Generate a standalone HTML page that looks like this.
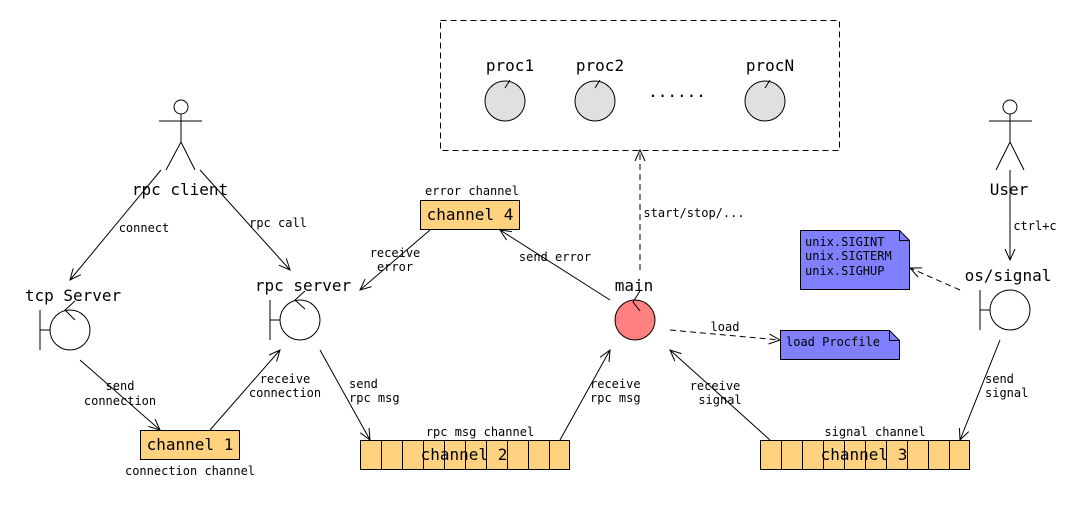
<!DOCTYPE html>
<html><head><meta charset="utf-8"><style>
html,body{margin:0;padding:0;background:#fff;}
svg{display:block;}
text{font-family:"DejaVu Sans Mono","Liberation Mono",monospace;fill:#000;}
.s{font-size:12px;}
.b{font-size:16px;}
</style></head><body>
<svg width="1090" height="510" viewBox="0 0 1090 510" xmlns="http://www.w3.org/2000/svg">
<defs>
<marker id="a" markerWidth="14" markerHeight="14" refX="12" refY="6" orient="auto" markerUnits="userSpaceOnUse">
<path d="M1,1 L12,6 L1,11" fill="none" stroke="#000" stroke-width="1"/>
</marker>
</defs>
<g stroke="#000" stroke-width="1" fill="none">
<rect x="440.5" y="20.5" width="399" height="130" stroke-dasharray="6,4"/>
<!-- procs -->
<circle cx="505" cy="101" r="20" fill="#e0e0e0"/>
<circle cx="595" cy="101" r="20" fill="#e0e0e0"/>
<circle cx="765" cy="101" r="20" fill="#e0e0e0"/>
<path d="M510,80 L505,88 M600,80 L595,88 M770,80 L765,88"/>
<!-- actors -->
<circle cx="181" cy="107" r="7"/>
<path d="M159,121 H202 M181,114 V142 L166,170 M181,142 L195,170"/>
<circle cx="1010" cy="107" r="7"/>
<path d="M989,121 H1032 M1010,114 V142 L996,170 M1010,142 L1024,170"/>
<!-- boundaries -->
<path d="M40,310 V350 M40,330 H50 M75,301 L65,310 L75,320"/>
<circle cx="70" cy="330" r="20"/>
<path d="M270,300 V340 M270,320 H280 M305,291 L295,300 L305,309"/>
<circle cx="300" cy="320" r="20"/>
<path d="M980,290 V330 M980,310 H990"/>
<circle cx="1010" cy="310" r="20"/>
<circle cx="635" cy="320" r="20" fill="#ff8080"/>
<path d="M640,291 L633,302 L640,311"/>
<!-- channels -->
<rect x="140.5" y="430.5" width="99" height="29" fill="#ffd280"/>
<rect x="420.5" y="200.5" width="99" height="29" fill="#ffd280"/>
<rect x="360.5" y="440.5" width="209" height="29" fill="#ffd280"/>
<path d="M381.5,440 V470 M402.5,440 V470 M423.5,440 V470 M444.5,440 V470 M465.5,440 V470 M486.5,440 V470 M507.5,440 V470 M528.5,440 V470 M549.5,440 V470"/>
<rect x="760.5" y="440.5" width="209" height="29" fill="#ffd280"/>
<path d="M781.5,440 V470 M802.5,440 V470 M823.5,440 V470 M844.5,440 V470 M865.5,440 V470 M886.5,440 V470 M907.5,440 V470 M928.5,440 V470 M949.5,440 V470"/>
<!-- notes -->
<path d="M800.5,230.5 H899.5 L909.5,240.5 V289.5 H800.5 Z" fill="#8080ff"/>
<path d="M899.5,230.5 V240.5 H909.5"/>
<path d="M780.5,330.5 H889.5 L899.5,340.5 V359.5 H780.5 Z" fill="#8080ff"/>
<path d="M889.5,330.5 V340.5 H899.5"/>
<!-- arrows -->
<g marker-end="url(#a)">
<path d="M161,170 L70,280"/>
<path d="M200,170 L290,270"/>
<path d="M430,230 L360,290"/>
<path d="M610,300 L500,230"/>
<path d="M640,270 L640,150" stroke-dasharray="6,4"/>
<path d="M670,330 L780,340" stroke-dasharray="6,4"/>
<path d="M960,290 L910,268" stroke-dasharray="6,4"/>
<path d="M1010,170 L1010,260"/>
<path d="M80,360 L160,430"/>
<path d="M210,430 L280,350"/>
<path d="M320,350 L370,440"/>
<path d="M560,440 L610,350"/>
<path d="M770,440 L670,350"/>
<path d="M1000,340 L960,440"/>
</g>
</g>
<!-- text -->
<g class="b" text-anchor="middle">
<text x="510" y="71">proc1</text>
<text x="600" y="71">proc2</text>
<text x="770" y="71">procN</text>
<text x="677" y="97">......</text>
<text x="180" y="195">rpc client</text>
<text x="1009" y="195">User</text>
<text x="73" y="301">tcp Server</text>
<text x="303" y="291">rpc server</text>
<text x="1008" y="281">os/signal</text>
<text x="634" y="291">main</text>
<text x="190" y="450">channel 1</text>
<text x="470" y="220">channel 4</text>
<text x="464" y="460">channel 2</text>
<text x="864" y="460">channel 3</text>
</g>
<g class="s" text-anchor="middle">
<text x="144" y="232">connect</text>
<text x="278" y="227">rpc call</text>
<text x="395" y="257">receive</text>
<text x="395" y="271">error</text>
<text x="555" y="261">send error</text>
<text x="694" y="217">start/stop/...</text>
<text x="725" y="331">load</text>
<text x="1035" y="230">ctrl+c</text>
<text x="120" y="390">send</text>
<text x="120" y="405">connection</text>
<text x="285" y="383">receive</text>
<text x="285" y="397">connection</text>
<text x="715" y="390">receive</text>
<text x="720" y="404">signal</text>
<text x="472" y="195">error channel</text>
<text x="190" y="475">connection channel</text>
<text x="480" y="436">rpc msg channel</text>
<text x="875" y="436">signal channel</text>
</g>
<g class="s">
<text x="349" y="388">send</text>
<text x="349" y="402">rpc msg</text>
<text x="590" y="388">receive</text>
<text x="590" y="402">rpc msg</text>
<text x="985" y="383">send</text>
<text x="985" y="397">signal</text>
<text x="805" y="246">unix.SIGINT</text>
<text x="805" y="260">unix.SIGTERM</text>
<text x="805" y="275">unix.SIGHUP</text>
<text x="786" y="346">load Procfile</text>
</g>
</svg>
</body></html>
